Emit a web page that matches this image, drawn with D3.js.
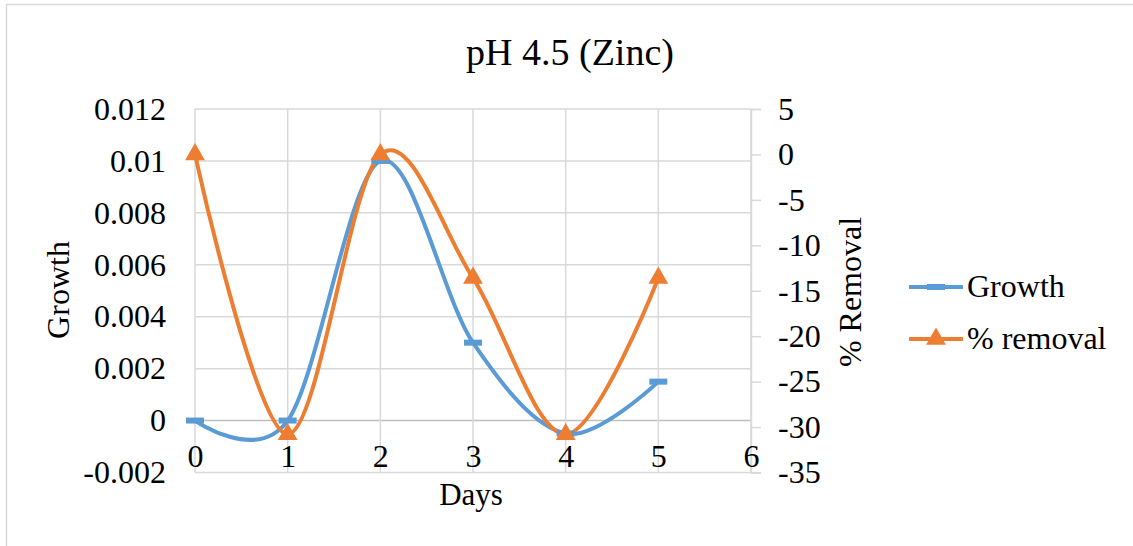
<!DOCTYPE html>
<html>
<head>
<meta charset="utf-8">
<script src="https://cdn.jsdelivr.net/npm/d3@7/dist/d3.min.js"></script>
<style>
  body { margin: 0; background: #fff; }
  text { font-family: "Liberation Serif", "Times New Roman", serif; fill: #000; }
</style>
</head>
<body>
<div id="chart"></div>
<script>
// data
var days = [0, 1, 2, 3, 4, 5];
var growth = [0, 0, 0.01, 0.003, -0.0005, 0.0015];
var removal = [0, -30.8, 0, -13.6, -30.8, -13.6];
var leftTicks = [-0.002, 0, 0.002, 0.004, 0.006, 0.008, 0.01, 0.012];
var rightTicks = [-35, -30, -25, -20, -15, -10, -5, 0, 5];
var dayTicks = [0, 1, 2, 3, 4, 5, 6];

var width = 1133, height = 546;
var blue = '#5b9bd5', orange = '#ed7d31', grid = '#d9d9d9';

// plain hyphen for negatives, like Excel
function fmt(d) { return String(+d.toFixed(3)); }

var svg = d3.select('#chart').append('svg')
  .attr('width', width)
  .attr('height', height);

// outer frame
svg.append('rect')
  .attr('x', 6.5).attr('y', 4.5)
  .attr('width', width).attr('height', height)
  .attr('fill', 'none')
  .attr('stroke', '#d9d9d9')
  .attr('stroke-width', 1.5);

// scales
var x = d3.scaleLinear().domain([0, 6]).range([195, 751]);
var yL = d3.scaleLinear().domain([-0.002, 0.012]).range([472.5, 109]);
var yR = d3.scaleLinear().domain([-35, 5]).range([472.5, 109]);

// grid
svg.append('g').selectAll('line')
  .data(leftTicks)
  .enter().append('line')
  .attr('x1', x(0)).attr('x2', x(6))
  .attr('y1', function(d) { return yL(d); })
  .attr('y2', function(d) { return yL(d); })
  .attr('stroke', function(d) { return d === 0 ? '#bfbfbf' : grid; })
  .attr('stroke-width', 1.5);

svg.append('g').selectAll('line')
  .data(dayTicks)
  .enter().append('line')
  .attr('x1', function(d) { return x(d); })
  .attr('x2', function(d) { return x(d); })
  .attr('y1', yL(0.012)).attr('y2', yL(-0.002))
  .attr('stroke', grid)
  .attr('stroke-width', 1.5);

// left axis
var leftAxis = d3.axisLeft(yL).tickValues(leftTicks).tickSize(0).tickPadding(29).tickFormat(fmt);
var gl = svg.append('g')
  .attr('transform', 'translate(' + x(0) + ',0)')
  .call(leftAxis);
gl.attr('font-family', null).attr('font-size', 32);
gl.select('.domain').remove();

// right axis
var rightAxis = d3.axisRight(yR).tickValues(rightTicks).tickSize(10).tickPadding(17).tickFormat(fmt);
var gr = svg.append('g')
  .attr('transform', 'translate(' + x(6) + ',0)')
  .call(rightAxis);
gr.attr('font-family', null).attr('font-size', 32);
gr.select('.domain').attr('stroke', grid).attr('stroke-width', 1.5);
gr.selectAll('line').attr('stroke', grid).attr('stroke-width', 1.5);

// x axis crossing at 0
var xAxis = d3.axisBottom(x).tickValues(dayTicks).tickSize(0).tickPadding(24).tickFormat(fmt);
var gx = svg.append('g')
  .attr('transform', 'translate(0,' + yL(0) + ')')
  .call(xAxis);
gx.attr('font-family', null).attr('font-size', 32);
gx.select('.domain').remove();

// lines
var lineG = d3.line()
  .x(function(d, i) { return x(days[i]); })
  .y(function(d) { return yL(d); })
  .curve(d3.curveCardinal.tension(0));
var lineR = d3.line()
  .x(function(d, i) { return x(days[i]); })
  .y(function(d) { return yR(d); })
  .curve(d3.curveCardinal.tension(0));

svg.append('path')
  .datum(growth)
  .attr('d', lineG)
  .attr('fill', 'none')
  .attr('stroke', blue)
  .attr('stroke-width', 4);

svg.append('path')
  .datum(removal)
  .attr('d', lineR)
  .attr('fill', 'none')
  .attr('stroke', orange)
  .attr('stroke-width', 4);

// markers
svg.append('g').selectAll('rect')
  .data(growth)
  .enter().append('rect')
  .attr('x', function(d, i) { return x(days[i]) - 9; })
  .attr('y', function(d) { return yL(d) - 3; })
  .attr('width', 18).attr('height', 6)
  .attr('fill', blue);

var tri = d3.symbol().type(d3.symbolTriangle).size(170);
svg.append('g').selectAll('path')
  .data(removal)
  .enter().append('path')
  .attr('d', tri)
  .attr('transform', function(d, i) { return 'translate(' + x(days[i]) + ',' + yR(d) + ')'; })
  .attr('fill', orange);

// titles
svg.append('text')
  .attr('x', 570).attr('y', 65)
  .attr('text-anchor', 'middle')
  .attr('font-size', 38)
  .text('pH 4.5 (Zinc)');

svg.append('text')
  .attr('x', 471).attr('y', 505)
  .attr('text-anchor', 'middle')
  .attr('font-size', 31)
  .text('Days');

svg.append('text')
  .attr('transform', 'translate(69,290) rotate(-90)')
  .attr('text-anchor', 'middle')
  .attr('font-size', 32)
  .text('Growth');

svg.append('text')
  .attr('transform', 'translate(861,292) rotate(-90)')
  .attr('text-anchor', 'middle')
  .attr('font-size', 32)
  .text('% Removal');

// legend
var legend = svg.append('g');
legend.append('line')
  .attr('x1', 909).attr('x2', 963).attr('y1', 287).attr('y2', 287)
  .attr('stroke', blue).attr('stroke-width', 4);
legend.append('rect')
  .attr('x', 927).attr('y', 284).attr('width', 18).attr('height', 6)
  .attr('fill', blue);
legend.append('text')
  .attr('x', 967).attr('y', 297)
  .attr('font-size', 32)
  .text('Growth');

legend.append('line')
  .attr('x1', 909).attr('x2', 963).attr('y1', 339).attr('y2', 339)
  .attr('stroke', orange).attr('stroke-width', 4);
legend.append('path')
  .attr('d', tri)
  .attr('transform', 'translate(936,339)')
  .attr('fill', orange);
legend.append('text')
  .attr('x', 967).attr('y', 349)
  .attr('font-size', 32)
  .text('% removal');
</script>
</body>
</html>
